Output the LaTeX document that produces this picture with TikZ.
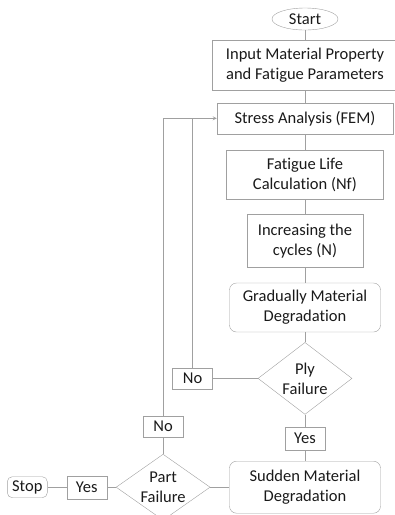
\documentclass[tikz,border=0pt]{standalone}
\usepackage{fontspec}
\setmainfont{Carlito}[Ligatures=NoCommon]
\usetikzlibrary{shapes.geometric, arrows, positioning}
\definecolor{linegray}{HTML}{A0A0A0}
\definecolor{textgray}{HTML}{1A1A1A}
\tikzstyle{startstop} = [
  ellipse,
  minimum width=66pt,
  minimum height=22pt,
  inner sep=0,
  draw=linegray,
  text=textgray
]
\tikzstyle{process} = [
  rectangle,
  align=center,
  inner sep=0,
  draw=linegray,
  text=textgray
]
\tikzstyle{soft} = [
  process,
  rounded corners=7pt
]
\tikzstyle{decision} = [
  diamond,
  aspect=1.3,
  align=center,
  minimum width=94pt,
  minimum height=72pt,
  inner sep=0,
  draw=linegray,
  text=textgray
]
\tikzstyle{answer} = [
  rectangle,
  minimum width=40pt,
  minimum height=21pt,
  inner sep=0,
  draw=linegray,
  text=textgray
]
\tikzstyle{link} = [
  draw=linegray,
  line width=0.8pt
]
\tikzstyle{arrow} = [
  link,
  ->,
  >=stealth
]

\begin{document}
\begin{tikzpicture}[x=1pt, y=-1pt, font=\fontsize{16.5pt}{20pt}\selectfont]
      \useasboundingbox (0,0) rectangle (395,515);
      \node [startstop] (start) at (305,19) {Start};
      \node [process, below=10pt of start, minimum width=185pt, minimum height=50pt] (input) {Input Material Property\\and Fatigue Parameters};
      \node [process, below=12pt of input, minimum width=176pt, minimum height=31pt] (stress) {Stress Analysis (FEM)};
      \node [process, below=16pt of stress, minimum width=157pt, minimum height=49pt] (life) {Fatigue Life\\Calculation (Nf)};
      \node [process, below=15pt of life, minimum width=116pt, minimum height=53pt] (cycles) {Increasing the\\cycles (N)};
      \node [soft, below=15pt of cycles, minimum width=151pt, minimum height=49pt] (gradual) {Gradually Material\\Degradation};
      \node [decision, below=10pt of gradual] (ply) {Ply\\Failure};
      \node [answer, left=45pt of ply] (noply) {No};
      \node [answer, below=12pt of ply, minimum height=23pt] (yesply) {Yes};
      \node [soft, below=11pt of yesply, minimum width=151pt, minimum height=52pt] (sudden) {Sudden Material\\Degradation};
      \node [decision, left=19pt of sudden, minimum height=66pt] (part) {Part\\Failure};
      \node [answer, above=17pt of part] (nopart) {No};
      \node [answer, left=9pt of part, minimum height=23pt] (yespart) {Yes};
      \node [answer, left=19pt of yespart, rounded corners=5pt] (stop) {Stop};

      \draw [link] (start) -- (input);
      \draw [link] (input) -- (stress);
      \draw [link] (stress) -- (life);
      \draw [link] (life) -- (cycles);
      \draw [link] (cycles) -- (gradual);
      \draw [link] (gradual) -- (ply);
      \draw [link] (ply) -- (yesply);
      \draw [link] (yesply) -- (sudden);
      \draw [link] (ply.west) -- (noply.east);
      \draw [link] (noply.north) -- (noply.north |- stress.west);
      \draw [link] (sudden.west) -- (part.east);
      \draw [link] (part.north) -- (nopart.south);
      \draw [arrow] (nopart.north) |- (stress.west);
      \draw [link] (part.west) -- (yespart.east);
      \draw [link] (yespart) -- (stop);

    \end{tikzpicture}
\end{document}
